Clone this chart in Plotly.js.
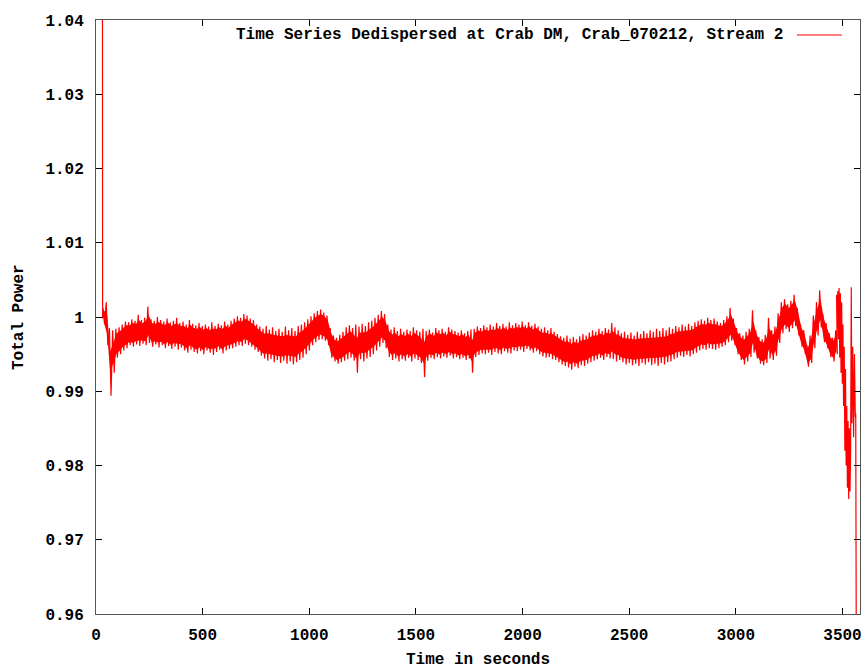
<!DOCTYPE html>
<html>
<head>
<meta charset="utf-8">
<script src="https://cdn.plot.ly/plotly-3.0.1.min.js"></script>
<style>
  html, body { margin: 0; padding: 0; background: #fff; }
  #chart { width: 866px; height: 669px; }
</style>
</head>
<body>
<div id="chart"></div>
<script>
// ---- Data ----
// Start-up transient (off the top of the chart)
const startTime  = [0, 30, 31];
const startPower = [1.06, 1.06, 0.9998];

// Main part: 15 s bins starting at t = 33 s, upper / lower envelope of the noisy series
const binStart = 33;
const binWidth = 15;
const upperPower = [
  1.0012, 1.0020, 0.9985, 0.9982, 0.9984, 0.9986, 0.9990, 0.9994, 0.9993, 0.9997,
  0.9995, 1.0003, 0.9996, 0.9999, 1.0014, 0.9997, 0.9995, 1.0000, 0.9996, 0.9994,
  0.9998, 0.9993, 0.9995, 0.9999, 0.9992, 0.9994, 0.9990, 0.9996, 0.9991, 0.9989,
  0.9992, 0.9988, 0.9990, 0.9987, 0.9993, 0.9988, 0.9991, 0.9989, 0.9994, 0.9990,
  0.9995, 0.9998, 1.0001, 0.9999, 1.0004, 1.0002, 0.9998, 0.9996, 0.9990, 0.9987,
  0.9984, 0.9988, 0.9983, 0.9986, 0.9981, 0.9984, 0.9980, 0.9987, 0.9982, 0.9985,
  0.9981, 0.9988, 0.9990, 0.9993, 0.9997, 1.0001, 1.0005, 1.0008, 1.0010, 1.0006,
  1.0002, 0.9985, 0.9975, 0.9972, 0.9976, 0.9980, 0.9986, 0.9989, 0.9985, 0.9990,
  0.9987, 0.9991, 0.9988, 0.9993, 0.9995, 0.9999, 1.0003, 1.0008, 1.0004, 0.9990,
  0.9983, 0.9986, 0.9981, 0.9984, 0.9980, 0.9983, 0.9981, 0.9986, 0.9982, 0.9980,
  0.9984, 0.9981, 0.9983, 0.9979, 0.9985, 0.9982, 0.9984, 0.9980, 0.9986, 0.9983,
  0.9981, 0.9979, 0.9982, 0.9978, 0.9981, 0.9983, 0.9984, 0.9987, 0.9985, 0.9989,
  0.9986, 0.9990, 0.9987, 0.9992, 0.9988, 0.9991, 0.9987, 0.9993, 0.9989, 0.9992,
  0.9990, 0.9994, 0.9989, 0.9993, 0.9988, 0.9991, 0.9987, 0.9984, 0.9986, 0.9982,
  0.9985, 0.9980, 0.9977, 0.9974, 0.9972, 0.9975, 0.9971, 0.9973, 0.9970, 0.9974,
  0.9977, 0.9975, 0.9979, 0.9982, 0.9980, 0.9984, 0.9981, 0.9985, 0.9983, 0.9992,
  0.9986, 0.9982, 0.9978, 0.9980, 0.9976, 0.9979, 0.9975, 0.9980, 0.9977, 0.9981,
  0.9978, 0.9982, 0.9980, 0.9984, 0.9981, 0.9985, 0.9982, 0.9986, 0.9984, 0.9988,
  0.9986, 0.9990, 0.9987, 0.9991, 0.9988, 0.9993, 0.9995, 0.9997, 0.9995, 0.9999,
  0.9996, 0.9998, 0.9994, 0.9992, 0.9996, 1.0001, 1.0012, 0.9998, 0.9985, 0.9978,
  0.9975, 0.9980, 0.9984, 1.0009, 0.9982, 0.9973, 0.9970, 0.9976, 0.9999, 0.9982,
  0.9987, 1.0005, 1.0020, 1.0024, 1.0017, 1.0022, 1.0030, 1.0012, 0.9990, 0.9982,
  0.9962, 0.9975, 1.0002, 1.0020, 1.0036, 1.0004, 0.9992, 0.9978, 0.9972, 0.9982
];
const lowerPower = [
  0.9990, 0.9962, 0.9894, 0.9925, 0.9945, 0.9950, 0.9955, 0.9958, 0.9962, 0.9960,
  0.9963, 0.9961, 0.9964, 0.9962, 0.9965, 0.9960, 0.9963, 0.9959, 0.9962, 0.9958,
  0.9961, 0.9957, 0.9960, 0.9956, 0.9959, 0.9955, 0.9952, 0.9956, 0.9953, 0.9951,
  0.9954, 0.9950, 0.9955, 0.9952, 0.9949, 0.9953, 0.9956, 0.9951, 0.9955, 0.9957,
  0.9958, 0.9960, 0.9962, 0.9961, 0.9964, 0.9962, 0.9960, 0.9956, 0.9953, 0.9948,
  0.9944, 0.9941, 0.9943, 0.9939, 0.9942, 0.9938, 0.9941, 0.9937, 0.9940, 0.9936,
  0.9939, 0.9942, 0.9945, 0.9950, 0.9955, 0.9962, 0.9966, 0.9969, 0.9970, 0.9968,
  0.9962, 0.9945, 0.9940, 0.9937, 0.9939, 0.9941, 0.9943, 0.9945, 0.9941, 0.9925,
  0.9943, 0.9940, 0.9944, 0.9946, 0.9950, 0.9955, 0.9960, 0.9965, 0.9958, 0.9946,
  0.9942, 0.9944, 0.9940, 0.9943, 0.9941, 0.9945, 0.9940, 0.9944, 0.9942, 0.9938,
  0.9919, 0.9941, 0.9945, 0.9943, 0.9946, 0.9944, 0.9947, 0.9945, 0.9948, 0.9944,
  0.9946, 0.9943, 0.9945, 0.9942, 0.9944, 0.9925, 0.9946, 0.9949, 0.9951, 0.9950,
  0.9952, 0.9949, 0.9953, 0.9951, 0.9950, 0.9954, 0.9952, 0.9951, 0.9955, 0.9954,
  0.9956, 0.9953, 0.9957, 0.9955, 0.9952, 0.9954, 0.9950, 0.9947, 0.9945, 0.9946,
  0.9943, 0.9942, 0.9939, 0.9936, 0.9934, 0.9932, 0.9929, 0.9933, 0.9931, 0.9935,
  0.9934, 0.9937, 0.9939, 0.9941, 0.9943, 0.9945, 0.9942, 0.9946, 0.9944, 0.9943,
  0.9940, 0.9942, 0.9939, 0.9936, 0.9938, 0.9935, 0.9937, 0.9934, 0.9938, 0.9936,
  0.9939, 0.9935, 0.9937, 0.9934, 0.9938, 0.9936, 0.9939, 0.9940, 0.9943, 0.9945,
  0.9948, 0.9946, 0.9949, 0.9947, 0.9950, 0.9952, 0.9955, 0.9957, 0.9956, 0.9958,
  0.9957, 0.9956, 0.9958, 0.9960, 0.9962, 0.9966, 0.9968, 0.9962, 0.9950, 0.9942,
  0.9936, 0.9940, 0.9946, 0.9952, 0.9944, 0.9937, 0.9935, 0.9938, 0.9944, 0.9942,
  0.9948, 0.9965, 0.9978, 0.9984, 0.9980, 0.9985, 0.9988, 0.9975, 0.9960, 0.9950,
  0.9933, 0.9938, 0.9958, 0.9975, 0.9986, 0.9966, 0.9958, 0.9946, 0.9940, 0.9950
];

// Final stretch: large swings at the end of the observation
const tailTime  = [3472, 3475, 3478, 3481, 3484, 3487, 3490, 3493, 3496, 3499,
                   3502, 3505, 3508, 3511, 3514, 3517, 3520, 3523, 3526, 3529,
                   3532, 3535, 3538, 3541, 3544, 3548, 3552, 3556, 3560, 3562, 3565];
const tailPower = [1.0030, 0.9985, 1.0035, 0.9970, 1.0039, 0.9945, 1.0032, 0.9925, 1.0020, 0.9910,
                   0.9990, 0.9880, 0.9960, 0.9820, 0.9930, 0.9800, 0.9880, 0.9770, 0.9860, 0.9755,
                   0.9850, 0.9765, 0.9820, 1.0040, 0.9857, 0.9960, 0.9838, 0.9950, 0.9865, 0.9870, 0.9500];

const xTickVals = [0, 500, 1000, 1500, 2000, 2500, 3000, 3500];
const xTickText = ["0", "500", "1000", "1500", "2000", "2500", "3000", "3500"];
const yTickVals = [0.96, 0.97, 0.98, 0.99, 1.00, 1.01, 1.02, 1.03, 1.04];
const yTickText = ["0.96", "0.97", "0.98", "0.99", "1", "1.01", "1.02", "1.03", "1.04"];

const seriesName = "Time Series Dedispersed at Crab DM, Crab_070212, Stream 2";
const xTitle = "Time in seconds";
const yTitle = "Total Power";

// ---- Build the traces ----
const xs = [], ys = [];
for (let i = 0; i < startTime.length; i++) { xs.push(startTime[i]); ys.push(startPower[i]); }
for (let i = 0; i < upperPower.length; i++) {
  const t = binStart + i * binWidth;
  xs.push(t); ys.push(upperPower[i]);
  xs.push(t + binWidth / 2); ys.push(lowerPower[i]);
}
for (let i = 0; i < tailTime.length; i++) { xs.push(tailTime[i]); ys.push(tailPower[i]); }

// Dense core of the noise band (inner part of each bin's envelope)
const coreX = [], coreLo = [], coreHi = [];
for (let i = 0; i < upperPower.length; i++) {
  const mid = (upperPower[i] + lowerPower[i]) / 2;
  const half = Math.min((upperPower[i] - lowerPower[i]) / 2, 0.0019);
  coreX.push(binStart + i * binWidth + binWidth / 4);
  coreLo.push(mid - half * 0.72);
  coreHi.push(mid + half * 0.72);
}

const FONT = "Liberation Mono, DejaVu Sans Mono, monospace";
const tickFont = { family: FONT, size: 16, color: "#000", weight: "bold" };

const RED = "#ff0000";
const traces = [
  { x: coreX, y: coreLo, type: "scatter", mode: "lines", line: { width: 0, color: RED },
    showlegend: false, hoverinfo: "skip" },
  { x: coreX, y: coreHi, type: "scatter", mode: "lines", line: { width: 0, color: RED },
    fill: "tonexty", fillcolor: RED, showlegend: false, hoverinfo: "skip" },
  { x: xs, y: ys, type: "scatter", mode: "lines", line: { color: RED, width: 1.2 },
    name: seriesName, showlegend: false, hoverinfo: "skip" }
];

const axisCommon = {
  showline: true, linecolor: "#555", linewidth: 1, mirror: "ticks",
  ticks: "inside", ticklen: 6, tickwidth: 1, tickcolor: "#000",
  showgrid: false, zeroline: false, tickfont: tickFont, tickmode: "array",
  ticklabelstandoff: 6
};

const layout = {
  width: 866, height: 669,
  margin: { l: 96, r: 6, t: 20, b: 55 },
  paper_bgcolor: "#fff", plot_bgcolor: "#fff",
  showlegend: false,
  xaxis: Object.assign({}, axisCommon, {
    range: [0, 3582], tickvals: xTickVals, ticktext: xTickText
  }),
  yaxis: Object.assign({}, axisCommon, {
    range: [0.96, 1.04], tickvals: yTickVals, ticktext: yTickText, ticklabelstandoff: 8
  }),
  annotations: [
    { text: xTitle, xref: "paper", yref: "paper", x: 0.5, y: 0, xanchor: "center", yanchor: "top",
      yshift: -35, showarrow: false, font: tickFont },
    { text: yTitle, xref: "paper", yref: "paper", x: 0, y: 0.5, xanchor: "center", yanchor: "middle",
      xshift: -77, textangle: -90, showarrow: false, font: tickFont },
    { text: seriesName, xref: "paper", yref: "paper", x: 0.9018, y: 0.9747, xanchor: "right", yanchor: "middle",
      showarrow: false, font: tickFont }
  ],
  shapes: [
    { type: "line", xref: "paper", yref: "paper", x0: 0.9175, x1: 0.9764, y0: 0.9747, y1: 0.9747,
      line: { color: RED, width: 1 } }
  ]
};

Plotly.newPlot("chart", traces, layout, { displayModeBar: false, staticPlot: true });
</script>
</body>
</html>
